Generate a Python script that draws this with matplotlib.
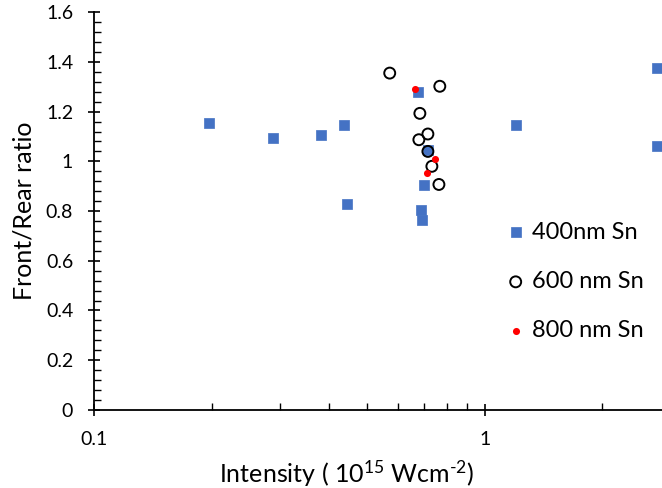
import matplotlib
matplotlib.use("Agg")
import matplotlib.pyplot as plt
from matplotlib.ticker import MultipleLocator, LogLocator, NullFormatter, FixedLocator, FixedFormatter

plt.rcParams["font.family"] = ["Lato", "DejaVu Sans"]
plt.rcParams["mathtext.fontset"] = "custom"
plt.rcParams["mathtext.rm"] = "Lato"
plt.rcParams["mathtext.default"] = "rm"

# 400 nm Sn (filled blue squares)
x400 = [0.197, 0.287, 0.381, 0.436, 0.444, 0.674, 0.715, 0.698, 0.686, 0.690, 1.20, 2.75, 2.75]
y400 = [1.155, 1.095, 1.105, 1.148, 0.830, 1.280, 1.045, 0.903, 0.803, 0.765, 1.148, 1.375, 1.060]

# 600 nm Sn (open circles)
x600 = [0.571, 0.767, 0.682, 0.715, 0.678, 0.715, 0.732, 0.763]
y600 = [1.355, 1.302, 1.193, 1.110, 1.087, 1.040, 0.980, 0.907]

# 800 nm Sn (small red dots)
x800 = [0.662, 0.745, 0.711]
y800 = [1.292, 1.008, 0.952]

fig = plt.figure(figsize=(6.62, 4.88), dpi=100)
ax = fig.add_axes([0.142, 0.160, 0.858, 0.815])

ax.scatter(x400, y400, marker="s", s=52, color="#4472C4", edgecolors="#4472C4",
           linewidths=0.5, label="400nm Sn", clip_on=False, zorder=3)
ax.scatter(x600, y600, marker="o", s=62, facecolors="none", edgecolors="black",
           linewidths=1.4, label="600 nm Sn", clip_on=False, zorder=4)
ax.scatter(x800, y800, marker="o", s=26, color="#FF0000", linewidths=0,
           label="800 nm Sn", clip_on=False, zorder=5)

ax.set_xscale("log")
ax.set_xlim(0.1, 2.84)
ax.set_ylim(0, 1.6)

ax.xaxis.set_major_locator(FixedLocator([0.1, 1]))
ax.xaxis.set_major_formatter(FixedFormatter(["0.1", "1"]))
ax.xaxis.set_minor_locator(LogLocator(base=10, subs=range(2, 10)))
ax.xaxis.set_minor_formatter(NullFormatter())
ax.set_yticks([0, 0.2, 0.4, 0.6, 0.8, 1.0, 1.2, 1.4, 1.6])
ax.set_yticklabels(["0", "0.2", "0.4", "0.6", "0.8", "1", "1.2", "1.4", "1.6"])
ax.yaxis.set_minor_locator(MultipleLocator(0.04))

for side in ("top", "right"):
    ax.spines[side].set_visible(False)
for side in ("left", "bottom"):
    ax.spines[side].set_linewidth(1.3)

ax.tick_params(which="major", direction="inout", length=8, width=1.2, labelsize=14)
ax.tick_params(which="minor", direction="in", length=5, width=1.0)
ax.tick_params(axis="y", which="major", pad=11)
ax.tick_params(axis="x", which="major", pad=11)

ax.set_xlabel("Intensity ( 10$^{15}$ Wcm$^{\u20102}$)", fontsize=18)
ax.set_ylabel("Front/Rear ratio", fontsize=18)
ax.xaxis.set_label_coords(0.445, -0.122)
ax.yaxis.set_label_coords(-0.103, 0.5)

ax.legend(loc="upper left", bbox_to_anchor=(0.705, 0.497), frameon=False,
          fontsize=17, labelspacing=1.2, handletextpad=0.2, handlelength=1.0,
          borderaxespad=0.0)

fig.savefig("out.png", dpi=100)
